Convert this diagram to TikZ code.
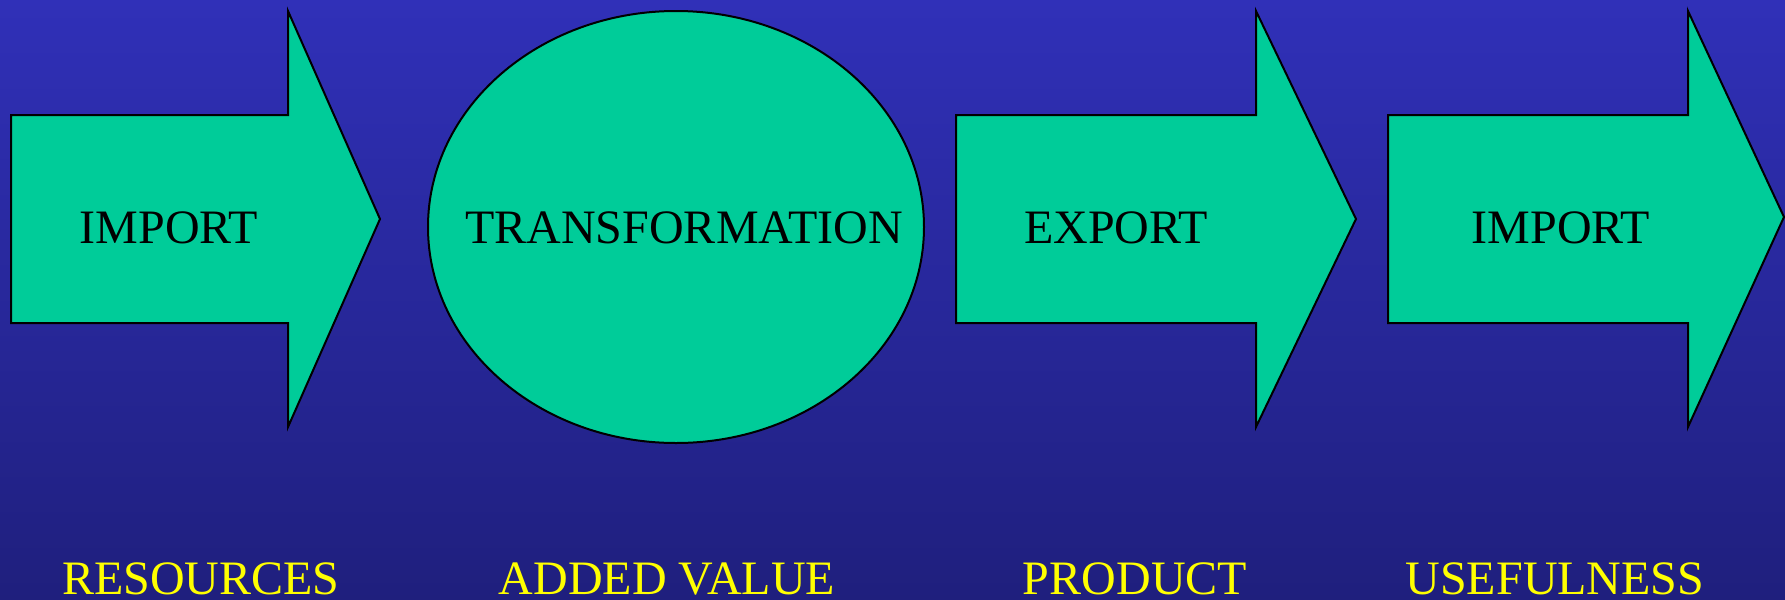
\documentclass[tikz,border=0pt]{standalone}
\usepackage{fontspec}
\setmainfont{Liberation Serif}
\definecolor{bgtop}{RGB}{48,48,184}
\definecolor{bgbot}{RGB}{31,31,125}
\definecolor{shapegreen}{RGB}{0,204,153}
\definecolor{labelyellow}{RGB}{255,255,0}
\begin{document}
\begin{tikzpicture}[x=0.5pt,y=-0.5pt,
  shapefill/.style={fill=shapegreen,draw=black,line width=1pt,line join=miter},
  inlabel/.style={anchor=base,inner sep=0pt,font=\fontsize{24}{28}\selectfont,text=black},
  outlabel/.style={anchor=base,inner sep=0pt,text depth=0pt,font=\fontsize{24}{28}\selectfont,text=labelyellow}]
  % backdrop with vertical gradient
  \shade[top color=bgtop,bottom color=bgbot] (0,0) rectangle (1785,600);
  \useasboundingbox (0,0) rectangle (1785,600);
  % block arrow 1
  \draw[shapefill] (11,115) -- (288,115) -- (288,11) -- (380,219) -- (288,427) -- (288,323) -- (11,323) -- cycle;
  % central ellipse
  \draw[shapefill] (676,227) ellipse [x radius=248,y radius=216];
  % block arrow 2
  \draw[shapefill] (956,115) -- (1256,115) -- (1256,11) -- (1356,219) -- (1256,427) -- (1256,323) -- (956,323) -- cycle;
  % block arrow 3
  \draw[shapefill] (1388,115) -- (1688,115) -- (1688,11) -- (1784,217) -- (1688,427) -- (1688,323) -- (1388,323) -- cycle;
  % texts inside the shapes
  \node[inlabel] (imp1) at (169,243) {IMPORT};
  \node[inlabel] (trans) at (684,243) {TRANSFORMATION};
  \node[inlabel] (exp) at (1116,243) {EXPORT};
  \node[inlabel] (imp2) at (1561,243) {IMPORT};
  % captions along the bottom
  \node[outlabel] (res) at (201,594) {RESOURCES};
  \node[outlabel] (val) at (667,594) {ADDED VALUE};
  \node[outlabel] (prod) at (1135,594) {PRODUCT};
  \node[outlabel] (use) at (1555,594) {USEFULNESS};
\end{tikzpicture}
\end{document}
